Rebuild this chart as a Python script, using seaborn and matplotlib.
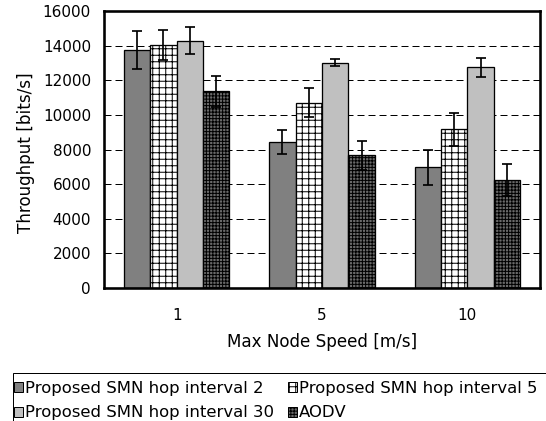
import matplotlib
matplotlib.use("Agg")
import matplotlib.pyplot as plt
import matplotlib.colors as mcolors
from matplotlib.patches import Patch, Rectangle
import numpy as np
import pandas as pd
import seaborn as sns

# ---------------- data ----------------
speeds = ["1", "5", "10"]
series = [
    "Proposed SMN hop interval 2",
    "Proposed SMN hop interval 5",
    "Proposed SMN hop interval 30",
    "AODV",
]
hop2 = [13780, 8440, 6980]
hop5 = [14060, 10710, 9170]
hop30 = [14300, 13030, 12750]
aodv = [11370, 7670, 6260]
err_hop2 = [1100, 710, 1020]
err_hop5 = [870, 830, 955]
err_hop30 = [800, 220, 565]
err_aodv = [890, 830, 915]
yticks = [0, 2000, 4000, 6000, 8000, 10000, 12000, 14000, 16000]

values = [hop2, hop5, hop30, aodv]
errors = [err_hop2, err_hop5, err_hop30, err_aodv]

rows = []
for s, vals in zip(series, values):
    for sp, v in zip(speeds, vals):
        rows.append({"speed": sp, "series": s, "throughput": v})
df = pd.DataFrame(rows)

# ---------------- style ----------------
DPI = 78
W, H = 546, 421


def pt(px):
    return px * 72.0 / DPI


plt.rcParams["font.family"] = ["DejaVu Sans"]
plt.rcParams["hatch.linewidth"] = pt(1.0)

facecolors = ["#808080", "#ffffff", "#c0c0c0", "#6a6a6a"]
hatches = ["", "++", "", "++++"]
hatchcolors = ["black", "black", "black", "black"]

fig = plt.figure(figsize=(W / DPI, H / DPI), dpi=DPI)
ax = fig.add_axes([104 / W, (H - 288) / H, 436 / W, (288 - 11.2) / H])

sns.barplot(
    data=df, x="speed", y="throughput", hue="series",
    order=speeds, hue_order=series, palette=facecolors,
    width=0.727, errorbar=None, saturation=1,
    edgecolor="black", linewidth=pt(1.3), legend=False, ax=ax, zorder=2,
)

bar_conts = list(ax.containers)
for i, cont in enumerate(bar_conts):
    for p in cont:
        p.set_edgecolor("black")
        p.set_hatch(hatches[i])
        p._hatch_color = mcolors.to_rgba(hatchcolors[i])
    xs = [p.get_x() + p.get_width() / 2 for p in cont]
    ax.errorbar(xs, values[i], yerr=errors[i], fmt="none", ecolor="black",
                elinewidth=pt(1.7), capsize=pt(5), capthick=pt(1.7), zorder=3)

ax.set_ylim(0, 16000)
ax.set_xlim(-0.5, 2.5)
ax.set_yticks(yticks)
ax.set_yticklabels([str(t) for t in yticks])
ax.set_axisbelow(True)
ax.yaxis.grid(True, color="black", linestyle=(0, (7, 4)), linewidth=pt(1.0))
ax.xaxis.grid(False)
for s in ax.spines.values():
    s.set_linewidth(pt(2.6))
    s.set_color("black")
ax.tick_params(axis="both", length=0, labelsize=pt(15.3), colors="black")
ax.tick_params(axis="y", pad=pt(13))
ax.tick_params(axis="x", pad=pt(20))

ax.set_xlabel("Max Node Speed [m/s]", fontsize=pt(16.7), color="black")
ax.set_ylabel("Throughput [bits/s]", fontsize=pt(16.7), color="black")
ax.xaxis.set_label_coords(0.5, -0.164)
ax.yaxis.set_label_coords(-0.158, 0.49)

# ---------------- legend ----------------
handles = []
for i, s in enumerate(series):
    h = Patch(facecolor=facecolors[i], edgecolor="black", linewidth=pt(1.0),
              hatch=hatches[i], label=s)
    h._hatch_color = mcolors.to_rgba(hatchcolors[i])
    handles.append(h)
order = [0, 2, 1, 3]
leg = fig.legend(
    [handles[k] for k in order], [series[k] for k in order],
    ncol=2, loc="upper left", bbox_to_anchor=(14 / W, (H - 380.5) / H),
    frameon=False, fontsize=pt(16.5), borderpad=0, borderaxespad=0,
    handlelength=0.56, handleheight=0.56, handletextpad=0.1,
    columnspacing=0.85, labelspacing=0.6,
)
fig.add_artist(Rectangle((12.7 / W, -0.2), 1.5, (H - 372.5) / H + 0.2,
                         transform=fig.transFigure, fill=False,
                         edgecolor="black", linewidth=pt(1.0)))

fig.savefig("out.png", dpi=DPI, facecolor="white")
